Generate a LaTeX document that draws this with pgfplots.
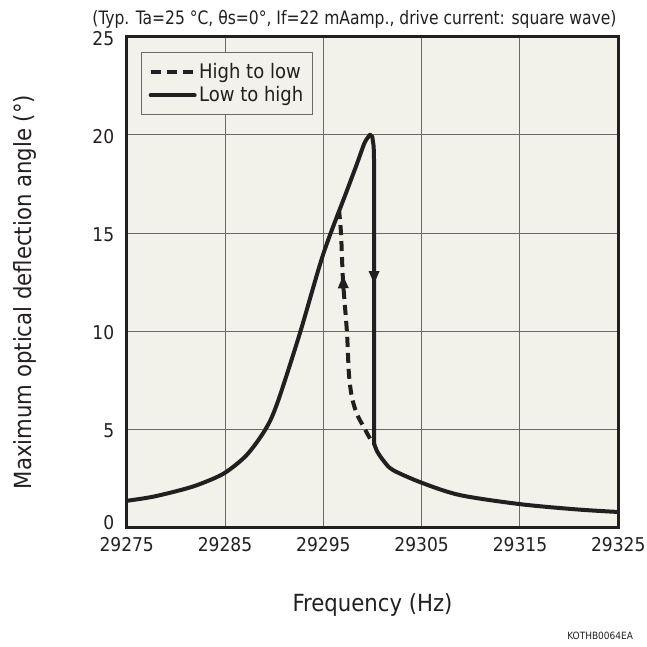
\documentclass[border=0pt]{standalone}
\usepackage{pgfplots}
\pgfplotsset{compat=1.18}
\usepackage{fontspec}
\setmainfont{DejaVu Sans Condensed}
\usetikzlibrary{arrows.meta}
\definecolor{bgc}{HTML}{F2F1EA}
\definecolor{ink}{HTML}{231F20}
\definecolor{gridc}{HTML}{6A6A66}
\newlength\px
\setlength\px{0.5pt}

\begin{document}
\begin{tikzpicture}
\useasboundingbox (0,0) rectangle (647\px,647\px);
\begin{axis}[
  at={(126.7\px,119.5\px)}, anchor=south west,
  scale only axis, width=491.6\px, height=490.8\px,
  xmin=29275, xmax=29325, ymin=0, ymax=25,
  xtick={29275,29285,...,29325}, ytick={5,10,...,25},
  scaled x ticks=false,
  xticklabel={\pgfmathprintnumber[fixed,precision=0,1000 sep={}]{\tick}},
  extra y ticks={0},
  extra y tick style={grid=none, yticklabel style={yshift=3.4pt}},
  grid=major,
  major grid style={gridc, line width=0.5pt},
  major tick length=0pt,
  axis line style={ink, line width=1.5pt},
  axis background/.style={fill=bgc},
  /pgf/number format/1000 sep={},
  /pgf/number format/assume math mode=true,
  tick label style={font=\fontsize{9.5}{11}\selectfont, text=ink},
  yticklabel style={xshift=-2.7pt, yshift=-0.8pt},
  xticklabel style={yshift=-1.5pt},
  xlabel={Frequency (Hz)},
  ylabel={Maximum optical deflection angle (°)},
  label style={font=\fontsize{11.8}{14}\selectfont, text=ink},
  xlabel style={at={(axis description cs:0.5,0)}, anchor=base, yshift=-42pt},
  ylabel style={at={(axis description cs:-0.193,0.48)}, anchor=base},
  legend cell align=left,
  legend image code/.code={\draw[#1] (0pt,0pt) -- (22pt,0pt);},
  legend style={at={(axis description cs:0.029,0.969)}, anchor=north west,
    draw=gridc, line width=0.5pt, fill=bgc,
    font=\fontsize{10}{12}\selectfont, text=ink,
    inner xsep=3.6pt, inner ysep=4pt, row sep=0pt,
    nodes={inner sep=1.25pt}},
]
% high to low (frequency sweep downward)
\addplot[ink, line width=2pt, dash pattern=on 5pt off 3pt, smooth, tension=0.5] coordinates {
(29299.75,4.53) (29299.1,5.12) (29298.4,5.8) (29297.9,6.65)
(29297.6,7.84) (29297.4,9.95) (29297.0,12.58) (29296.8,14.96)
(29296.6,16.14)
};
% low to high: rising branch
\addplot[ink, line width=2pt, line cap=round, smooth, tension=0.5] coordinates {
(29275,1.36) (29277.7,1.57) (29281.1,1.99) (29283,2.32)
(29285,2.79) (29287.2,3.69) (29289.1,4.99)
(29290.3,6.31) (29292.6,9.87) (29295,13.94)
(29297.4,17.16) (29298.4,18.5) (29299.2,19.6) (29299.75,20.0)
};
% low to high: top and jump down
\addplot[ink, line width=2pt, line join=round, line cap=round, forget plot] coordinates {
(29299.75,20.0) (29299.98,19.9) (29300.12,19.4) (29300.16,18.6) (29300.16,4.28)
};
% low to high: falling branch
\addplot[ink, line width=2pt, line cap=round, smooth, tension=0.5, forget plot] coordinates {
(29300.16,4.28) (29300.5,3.85) (29301.2,3.35) (29302.1,2.92) (29305,2.28)
(29308.9,1.65) (29315,1.19) (29320.8,0.92) (29325,0.79)
};
% direction arrows
\addplot[ink, line width=2pt, forget plot, -{Triangle[length=6.5pt,width=5pt]}]
  coordinates {(29297.03,12.15) (29297.0,12.85)};
\addplot[ink, line width=2pt, forget plot, -{Triangle[length=6.5pt,width=5pt]}]
  coordinates {(29300.16,13.1) (29300.16,12.4)};
\legend{High to low, Low to high}
\end{axis}
\node[anchor=base, text=ink] at (354.5\px,622\px)
  {\resizebox{262pt}{\height}{\fontsize{9.25}{11}\selectfont
   (Typ. Ta=25 °C, θs=0°, If=22 mAamp., drive current: square wave)}};
\node[anchor=base east, text=ink, font=\fontsize{5}{6}\selectfont]
  at (640\px,7\px) {KOTHB0064EA};
\end{tikzpicture}
\end{document}
